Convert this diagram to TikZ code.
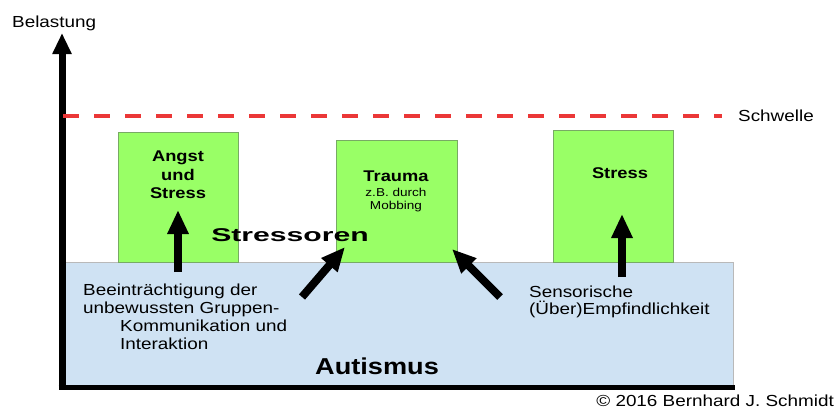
\documentclass[tikz,border=0pt]{standalone}
\usepackage{fontspec}
\usepackage{graphicx}
\setmainfont{Liberation Sans}[FakeStretch=1.18]
\usetikzlibrary{arrows.meta}
\definecolor{boxgreen}{RGB}{153,255,102}
\definecolor{boxedge}{RGB}{120,170,100}
\definecolor{autblue}{RGB}{207,226,243}
\definecolor{schwellrot}{RGB}{235,55,55}

\begin{document}
\begin{tikzpicture}[x=1pt,y=-1pt]
\useasboundingbox (0,0) rectangle (835,408);
\node[draw=gray!55,fill=autblue,minimum width=670pt,minimum height=123pt,inner sep=0,anchor=north west] (aut) at (63,262) {};
\node[draw=boxedge,fill=boxgreen,minimum width=120pt,minimum height=130pt,inner sep=0,anchor=north west] (angst) at (118,132) {};
\node[draw=boxedge,fill=boxgreen,minimum width=121pt,minimum height=122pt,inner sep=0,anchor=north west] (trauma) at (336,140) {};
\node[draw=boxedge,fill=boxgreen,minimum width=120pt,minimum height=132pt,inner sep=0,anchor=north west] (stress) at (553,130) {};

\coordinate (origin) at (62,387.5);
\coordinate (xend) at (735,387.5);
\coordinate (ytop) at (62,33);
\draw[line width=5pt,shorten <=-3.5pt] (origin) -- (xend);
\draw[line width=7pt,-{Triangle[width=18pt,length=21pt]}] (origin) -- (ytop);
\node[anchor=base west,inner sep=0,font=\fontsize{16}{18}\selectfont] (belastung) at (12,27) {Belastung};

\node[anchor=base west,inner sep=0,font=\fontsize{16}{18}\selectfont] (schwelle) at (738,121) {Schwelle};
\coordinate (s0) at (63,116);
\draw[schwellrot,line width=4pt,dash pattern=on 16pt off 15pt] (s0) -- (schwelle.west |- s0) [shorten >=16pt];

\foreach \txt/\yy in {Angst/161,und/180,Stress/198}
   \node[anchor=base,inner sep=0,font=\bfseries\fontsize{15.5}{18}\selectfont] (angst\yy) at (178,\yy) {\txt};
\node[anchor=base,inner sep=0,font=\bfseries\fontsize{15.5}{18}\selectfont] (traumatxt) at (396,181) {Trauma};
\node[anchor=base,inner sep=0,font=\fontsize{11.5}{14}\selectfont] (zb) at (396,196) {z.B. durch};
\node[anchor=base,inner sep=0,font=\fontsize{11.5}{14}\selectfont] (mobbing) at (396,209.5) {Mobbing};
\node[anchor=base,inner sep=0,font=\bfseries\fontsize{15.5}{18}\selectfont] (stresstxt) at (620,178) {Stress};

\node[anchor=base,inner sep=0,font=\bfseries\fontsize{18.5}{20}\selectfont] (stressoren) at (290,241) {\scalebox{1.38}[1]{Stressoren}};

\foreach \txt/\xx/\yy in {Beeinträchtigung der/83/295,unbewussten Gruppen-/83/313,Kommunikation und/120/331,Interaktion/120/349}
   \node[anchor=base west,inner sep=0,font=\fontsize{16}{18}\selectfont] (bee\yy) at (\xx,\yy) {\txt};
\node[anchor=base west,inner sep=0,font=\fontsize{16}{18}\selectfont] (senso) at (529,297) {Sensorische};
\node[anchor=base west,inner sep=0,font=\fontsize{16}{18}\selectfont] (empf) at (529,314) {(Über)Empfindlichkeit};
\node[anchor=base west,inner sep=0,font=\bfseries\fontsize{23}{26}\selectfont] (autismus) at (315,374) {Autismus};

\coordinate (p1) at (178,272);
\coordinate (q1) at (178,210);
\coordinate (p2) at (302,297);
\coordinate (q2) at (345,247);
\coordinate (p3) at (500,297);
\coordinate (q3) at (452,249);
\coordinate (p4) at (622,277);
\coordinate (q4) at (622,214);
\foreach \i in {1,2,3,4}
   \draw[line width=8pt,-{Triangle[width=20pt,length=24pt]}] (p\i) -- (q\i);

\node[anchor=base east,inner sep=0,font=\fontsize{16}{18}\selectfont] (copy) at (834,406) {© 2016 Bernhard J. Schmidt};
\end{tikzpicture}
\end{document}
